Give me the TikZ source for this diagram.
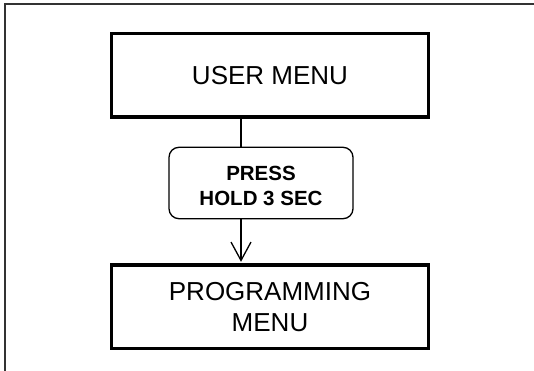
\documentclass[tikz,border=0pt]{standalone}
\usepackage{fontspec}
\setmainfont{Liberation Sans}
\usetikzlibrary{arrows.meta}
\tikzset{
  menubox/.style={draw=black, line width=3.5pt, minimum width=317pt, minimum height=83.5pt,
    inner sep=0pt, align=center, font=\fontsize{26}{31}\selectfont},
  actionbox/.style={draw=black, line width=1.3pt, rounded corners=10pt, minimum width=184pt,
    minimum height=71.4pt, inner sep=0pt, align=center, font=\fontsize{20.5}{25}\selectfont\bfseries},
  conn/.style={line width=1.3pt, draw=black},
  frameline/.style={line width=2pt, draw=black!80}
}
\begin{document}
\begin{tikzpicture}[x=1pt,y=1pt]
\useasboundingbox (0,0) rectangle (534,-371);
\coordinate (fbl) at (4.5,-371);
\coordinate (ftl) at (4.5,-4.5);
\coordinate (ftr) at (534,-4.5);
\draw[frameline] (fbl) -- (ftl) -- (ftr);
\node[menubox] (user) at (270,-75.2) {USER MENU};
\node[actionbox] (press) at (261,-183) {\rule{0pt}{20.7pt}PRESS\\HOLD 3 SEC};
\node[menubox] (prog) at (270,-306.8) {PROGRAMMING\\MENU};
\draw[conn] ([xshift=-20pt]press.north |- user.south) -- ([xshift=-20pt]press.north);
\draw[conn, -{Straight Barb[length=18.4pt,width=20pt,line width=1.3pt]}]
  ([xshift=-20pt]press.south) -- ([xshift=-20pt,yshift=1.5pt]press.south |- prog.north);
\end{tikzpicture}
\end{document}
